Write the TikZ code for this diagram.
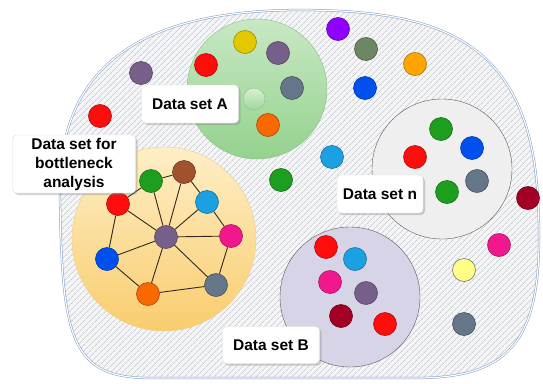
\documentclass[tikz,border=0pt]{standalone}
\usepackage{fontspec}
\setmainfont{Liberation Sans}
\usetikzlibrary{shadows,patterns.meta}
\definecolor{cred}{HTML}{FF0D0D}
\definecolor{cgreen}{HTML}{1E9E1E}
\definecolor{cbrown}{HTML}{A0522D}
\definecolor{clblue}{HTML}{1BA1E2}
\definecolor{cpurple}{HTML}{76608A}
\definecolor{cpink}{HTML}{F0188C}
\definecolor{cblue}{HTML}{0050EF}
\definecolor{corange}{HTML}{FA6800}
\definecolor{cslate}{HTML}{647687}
\definecolor{cyellow}{HTML}{E3C800}
\definecolor{cviolet}{HTML}{8F00FF}
\definecolor{colive}{HTML}{6D8764}
\definecolor{camber}{HTML}{FFA500}
\definecolor{cdkred}{HTML}{A20025}
\definecolor{clyellow}{HTML}{FFFF88}
\definecolor{cborder}{HTML}{7F9CC4}

\tikzset{
  ball/.style={circle, minimum size=23pt, inner sep=0pt, fill=#1, draw=#1!70!black, line width=0.6pt},
  setlabel/.style={rounded corners=4pt, fill=white, draw=gray!25, align=center,
    drop shadow={shadow xshift=2pt, shadow yshift=-2pt, opacity=0.35},
    font=\fontsize{15.5}{19}\selectfont\bfseries, inner sep=0pt},
  link/.style={line width=0.9pt, draw={rgb,255:red,50;green,40;blue,30}}
}

\begin{document}
\begin{tikzpicture}[x=1pt,y=-1pt]
        \useasboundingbox (0,0) rectangle (543,383);
        % outer set
        \path[fill={rgb,255:red,243;green,245;blue,248}]
          (60,200) .. controls (55,60) and (150,10) .. (300,10)
          .. controls (440,10) and (530,40) .. (538,200)
          .. controls (545,330) and (520,377) .. (420,378)
          -- (150,378) .. controls (72,378) and (62,340) .. (60,200) -- cycle;
        \draw[cborder, line width=0.6pt, double=white, double distance=1.2pt,
          pattern={Lines[angle=45,distance=4pt,line width=0.5pt]}, pattern color=gray!55]
          (60,200) .. controls (55,60) and (150,10) .. (300,10)
          .. controls (440,10) and (530,40) .. (538,200)
          .. controls (545,330) and (520,377) .. (420,378)
          -- (150,378) .. controls (72,378) and (62,340) .. (60,200) -- cycle;
        % subsets
        \draw[draw={rgb,255:red,140;green,190;blue,135}, top color={rgb,255:red,200;green,232;blue,195},
          bottom color={rgb,255:red,148;green,210;blue,142}] (257,89) circle (70);
        \draw[draw={rgb,255:red,238;green,205;blue,140}, top color={rgb,255:red,254;green,238;blue,198},
          bottom color={rgb,255:red,249;green,205;blue,110}] (164,239) circle (92);
        \draw[draw=black!65, fill={rgb,255:red,239;green,239;blue,239}] (442,169) circle (70);
        \draw[draw=black!65, fill={rgb,255:red,216;green,212;blue,232}] (350,297) circle (70);
        % free elements
        \node[ball=cviolet] (e1) at (338,29) {};
        \node[ball=colive] (e2) at (366,49) {};
        \node[ball=camber] (e3) at (415,64) {};
        \node[ball=cblue] (e4) at (365,88) {};
        \node[ball=cpurple] (e5) at (141,73) {};
        \node[ball=cred] (e6) at (100,116) {};
        \node[ball=clblue] (e7) at (332,157) {};
        \node[ball=cgreen] (e8) at (281,180) {};
        \node[ball=cdkred] (e9) at (528,198) {};
        \node[ball=cpink] (e10) at (499,245) {};
        \node[ball=clyellow, draw=black!55] (e11) at (464,270) {};
        \node[ball=cslate] (e12) at (464,324) {};
        % set A
        \node[ball=cyellow] (a1) at (245,42) {};
        \node[ball=cpurple] (a2) at (278,53) {};
        \node[ball=cred] (a3) at (206,65) {};
        \node[ball=cslate] (a4) at (292,88) {};
        \node[circle, minimum size=22pt, inner sep=0pt, draw={rgb,255:red,135;green,195;blue,130},
          top color={rgb,255:red,215;green,240;blue,210}, bottom color={rgb,255:red,160;green,215;blue,155}] (a5) at (254,99) {};
        \node[ball=corange] (a6) at (268,125) {};
        % set n
        \node[ball=cgreen] (n1) at (441,129) {};
        \node[ball=cblue] (n2) at (472,148) {};
        \node[ball=cred] (n3) at (415,157) {};
        \node[ball=cslate] (n4) at (477,181) {};
        \node[ball=cgreen] (n5) at (447,192) {};
        % set B
        \node[ball=cred] (b1) at (326,247) {};
        \node[ball=clblue] (b2) at (355,259) {};
        \node[ball=cpink] (b3) at (330,282) {};
        \node[ball=cpurple] (b4) at (366,293) {};
        \node[ball=cdkred] (b5) at (341,316) {};
        \node[ball=cred] (b6) at (385,324) {};
        % bottleneck graph
        \node[ball=cgreen] (green) at (151,181) {};
        \node[ball=cbrown] (brown) at (184,172) {};
        \node[ball=cred] (red) at (118,204) {};
        \node[ball=clblue] (lblue) at (207,202) {};
        \node[ball=cpurple] (hub) at (166,237) {};
        \node[ball=cpink] (pink) at (231,236) {};
        \node[ball=cblue] (blue) at (107,259) {};
        \node[ball=corange] (orange) at (148,294) {};
        \node[ball=cslate] (slate) at (216,285) {};
        \foreach \n in {green,brown,red,lblue,pink,blue,orange,slate}
          \draw[link] (hub) -- (\n);
        \draw[link] (red) -- (green) -- (brown) -- (lblue) -- (pink) -- (slate) -- (orange) -- (blue) -- (red);
        % text
        \node[setlabel, minimum width=97pt, minimum height=38pt] (lA) at (190,104) {Data set A};
        \node[setlabel, minimum width=123pt, minimum height=58pt] (lbn) at (74,164) {Data set for\\bottleneck\\analysis};
        \node[setlabel, minimum width=86pt, minimum height=38pt] (ln) at (380,194) {Data set n};
        \node[setlabel, minimum width=97pt, minimum height=37pt] (lB) at (271,345) {Data set B};
    \end{tikzpicture}
\end{document}
